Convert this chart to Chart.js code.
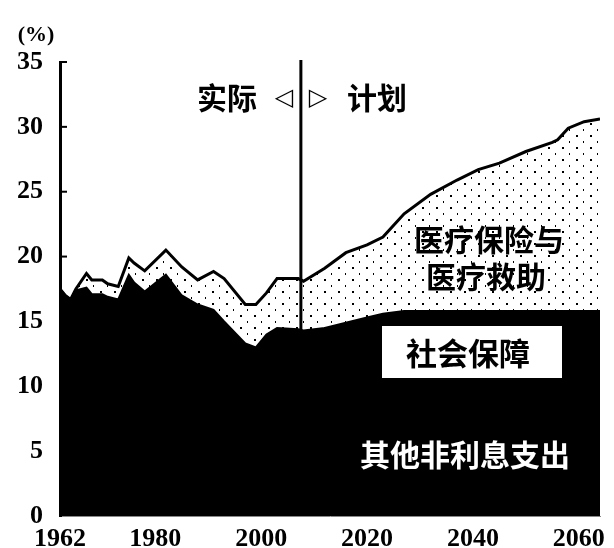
<!DOCTYPE html>
<html>
<head>
<meta charset="utf-8">
<script src="https://cdn.jsdelivr.net/npm/chart.js@4.4.1/dist/chart.umd.min.js"></script>
<style>
  html, body { margin: 0; padding: 0; background: #fff; }
  canvas { display: block; }
</style>
</head>
<body>
<canvas id="myChart" width="614" height="548"></canvas>
<script>
// 年份
const years = [1962, 1963, 1964, 1965, 1967, 1968, 1970, 1971, 1973, 1975, 1976, 1978, 1982, 1985,
  1988, 1991, 1993, 1997, 1999, 2001, 2003, 2007, 2008, 2012, 2016, 2020, 2023, 2027, 2032, 2037,
  2041, 2045, 2050, 2055, 2056, 2058, 2061, 2064];

// 其他非利息支出 (% GDP)
const otherSpending = [15.0, 14.5, 14.2, 14.8, 14.9, 14.3, 14.2, 13.6, 13.1, 14.6, 13.9, 13.2, 13.9, 12.5,
  12.0, 11.6, 10.6, 9.0, 8.9, 9.8, 10.3, 10.1, 9.9, 9.7, 9.9, 10.1, 10.1, 10.0, 9.7, 9.6,
  9.6, 9.7, 9.8, 9.8, 9.8, 9.8, 9.8, 9.8];

// 社会保障
const socialSecurity = [2.5, 2.5, 2.5, 2.6, 2.7, 2.8, 2.9, 3.3, 3.6, 4.0, 4.1, 4.1, 4.7, 4.5,
  4.3, 4.3, 4.4, 4.3, 4.1, 4.2, 4.2, 4.3, 4.4, 4.8, 5.0, 5.2, 5.5, 5.8, 6.1, 6.2,
  6.2, 6.1, 6.0, 6.0, 6.0, 6.0, 6.0, 6.0];

// 医疗保险与医疗救助
const medicare = [0, 0, 0, 0.1, 1.1, 1.1, 1.1, 1.0, 1.0, 1.3, 1.5, 1.6, 1.9, 2.2,
  1.9, 2.95, 3.3, 3.0, 3.3, 3.2, 3.8, 3.9, 3.8, 4.6, 5.4, 5.6, 5.9, 7.5, 9.0, 10.1,
  10.9, 11.4, 12.3, 13.0, 13.2, 14.1, 14.6, 14.8];

const xTicks = [1962, 1980, 2000, 2020, 2040, 2060];
const divideYear = 2007.5; // 实际 / 计划 分界

function pts(arr) {
    return arr.map((v, i) => ({ x: years[i], y: v }));
}

// 稀疏点状底纹
function dotPattern() {
    const c = document.createElement('canvas');
    c.width = 14; c.height = 12;
    const g = c.getContext('2d');
    g.fillStyle = '#fff';
    g.fillRect(0, 0, 14, 12);
    g.fillStyle = '#000';
    g.fillRect(2, 3, 2, 2);
    g.fillRect(9, 9, 1, 2);
    return g.createPattern(c, 'repeat');
}

const tickFont = { family: "'Liberation Serif', serif", size: 26, weight: 'bold' };
const cjk = "'Noto Sans CJK SC', sans-serif";

// 文字、分界线、刻度
const decorations = {
    id: 'decorations',
    afterDatasetsDraw(chart) {
        const ctx = chart.ctx;
        const x = chart.scales.x, y = chart.scales.y;
        const area = chart.chartArea;
        ctx.save();

        // y 轴向内刻度
        ctx.strokeStyle = '#000';
        ctx.lineWidth = 2;
        for (let v = 5; v <= 35; v += 5) {
            const py = y.getPixelForValue(v);
            ctx.beginPath();
            ctx.moveTo(area.left, py);
            ctx.lineTo(area.left + 7, py);
            ctx.stroke();
        }

        // 分界线
        const dx = x.getPixelForValue(divideYear);
        ctx.lineWidth = 3;
        ctx.beginPath();
        ctx.moveTo(dx, area.top - 2);
        ctx.lineTo(dx, area.bottom);
        ctx.stroke();

        ctx.fillStyle = '#000';
        ctx.textBaseline = 'middle';
        ctx.textAlign = 'center';

        ctx.font = "bold 22px 'Liberation Serif', serif";
        ctx.fillText('(%)', 36, 35);

        ctx.font = 'bold 30px ' + cjk;
        ctx.fillText('实际', 227, 98);
        ctx.fillText('计划', 377, 98);
        ctx.font = "bold 24px 'DejaVu Sans', sans-serif";
        ctx.fillText('◁', 284, 99);
        ctx.fillText('▷', 318, 99);

        ctx.font = 'bold 30px ' + cjk;
        ctx.fillText('医疗保险与', 489, 240);
        ctx.fillText('医疗救助', 486, 277);

        // 社会保障 白框
        ctx.fillStyle = '#fff';
        ctx.fillRect(382, 326, 180, 52);
        ctx.fillStyle = '#000';
        ctx.font = 'bold 31px ' + cjk;
        ctx.fillText('社会保障', 468, 353);

        ctx.fillStyle = '#fff';
        ctx.font = 'bold 30px ' + cjk;
        ctx.fillText('其他非利息支出', 465, 455);

        ctx.restore();
    }
};

const config = {
    type: 'line',
    data: {
        datasets: [
            {
                label: '其他非利息支出',
                data: pts(otherSpending),
                backgroundColor: '#000',
                borderColor: '#000',
                borderWidth: 2,
                fill: 'origin'
            },
            {
                label: '社会保障',
                data: pts(socialSecurity),
                backgroundColor: '#000',
                borderColor: '#000',
                borderWidth: 2,
                fill: '-1'
            },
            {
                label: '医疗保险与医疗救助',
                data: pts(medicare),
                backgroundColor: dotPattern(),
                borderColor: '#000',
                borderWidth: 3,
                fill: '-1'
            }
        ]
    },
    options: {
        responsive: false,
        animation: false,
        elements: { point: { radius: 0 }, line: { tension: 0 } },
        layout: { padding: { top: 62, right: 14, left: 0, bottom: 0 } },
        plugins: { legend: { display: false }, tooltip: { enabled: false } },
        scales: {
            x: {
                type: 'linear',
                min: 1962,
                max: 2064,
                afterBuildTicks: s => { s.ticks = xTicks.map(v => ({ value: v })); },
                afterFit: s => { s.height = 32; },
                grid: { display: false },
                border: { display: true, color: '#888', width: 1 },
                ticks: {
                    font: tickFont,
                    color: '#000',
                    maxRotation: 0,
                    autoSkip: false,
                    padding: 0,
                    callback: v => String(v)
                }
            },
            y: {
                stacked: true,
                min: 0,
                max: 35,
                afterFit: s => { s.width = 60; },
                grid: { display: false },
                border: { display: true, color: '#000', width: 3 },
                ticks: {
                    stepSize: 5,
                    font: tickFont,
                    color: '#000',
                    padding: 9
                }
            }
        }
    },
    plugins: [decorations]
};

const ctx = document.getElementById('myChart').getContext('2d');
const myChart = new Chart(ctx, config);
</script>
</body>
</html>
